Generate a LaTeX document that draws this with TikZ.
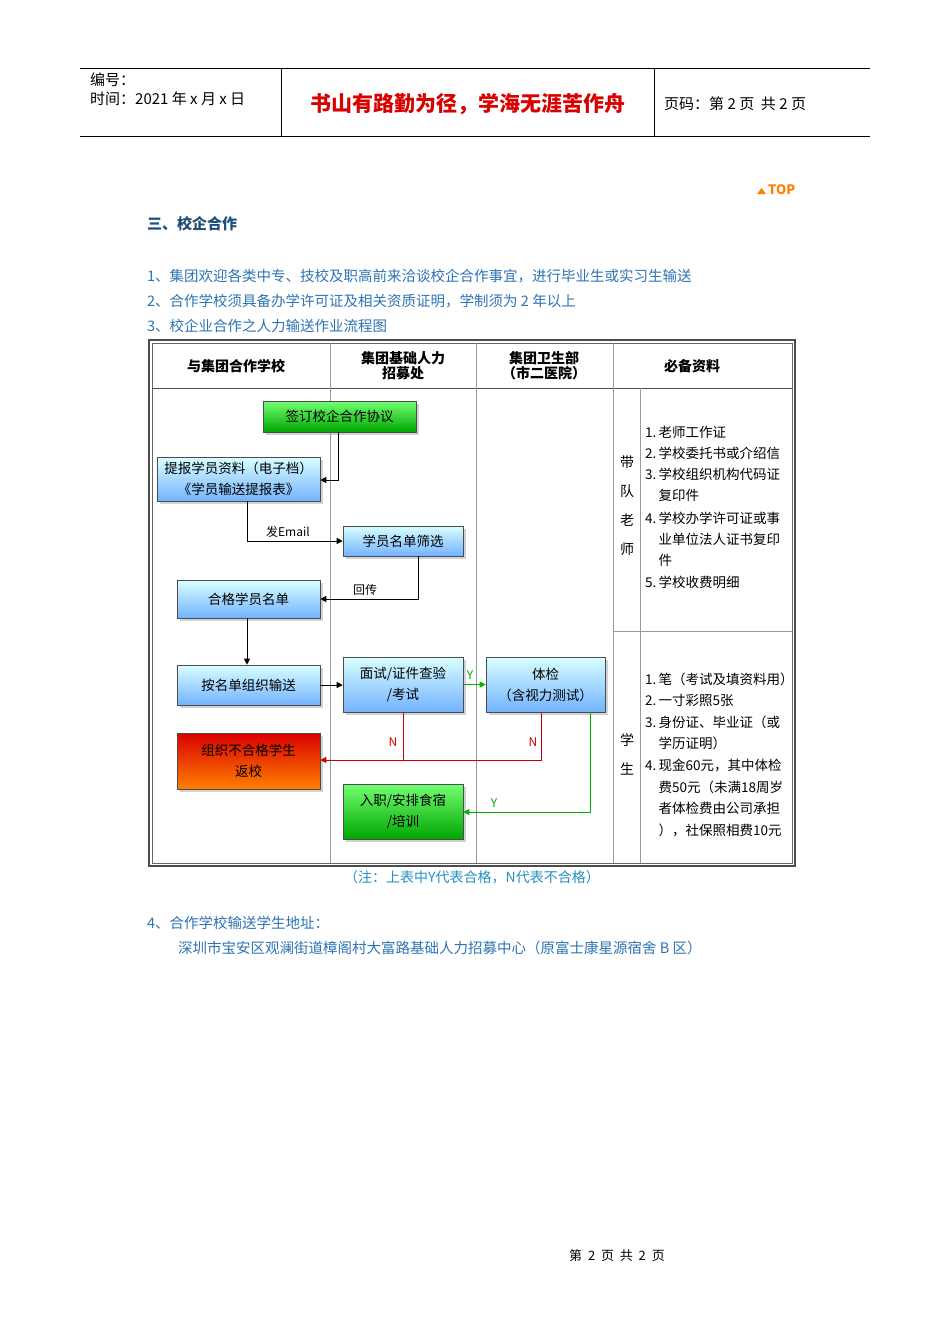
\documentclass[tikz,border=0pt]{standalone}
\usepackage{fontspec}
\setmainfont{Noto Sans CJK SC}
\usetikzlibrary{shadows,arrows.meta}
\definecolor{tblue}{HTML}{2E74B5}
\definecolor{dblue}{HTML}{1F4E79}
\tikzset{
 fbox/.style={draw=black!70,line width=0.6pt,minimum width=#1,align=center,font=\fontsize{13.5}{21}\selectfont,drop shadow={shadow xshift=3pt,shadow yshift=-3pt,opacity=0.35}},
 bluebox/.style={fbox=#1,top color=white!85!cyan,bottom color=cyan!45!blue!55},
 greenbox/.style={fbox=#1,top color=green!55!white,bottom color=green!65!black},
 redbox/.style={fbox=#1,top color=red!85!black,bottom color=orange},
 conn/.style={-{Triangle[length=6pt,width=6pt]},line width=0.8pt},
 gconn/.style={conn,draw=green!70!black},
 rconn/.style={conn,draw=red!80!black},
 lbl/.style={font=\fontsize{12}{13}\selectfont},
 txt/.style={anchor=west,font=\fontsize{14.5}{16}\selectfont,inner sep=0},
 hd/.style={font=\bfseries\fontsize{14}{15}\selectfont,align=center},
 rt/.style={anchor=west,font=\fontsize{13.5}{14}\selectfont,inner sep=0}
}
\begin{document}
\begin{tikzpicture}[x=1pt,y=-1pt]
\useasboundingbox[fill=white] (0,0) rectangle (950,1344);
% header
\draw[line width=0.6pt] (80,68) -- (870,68) (80,136) -- (870,136) (281,68) -- (281,136) (654,68) -- (654,136);
\node[txt,font=\fontsize{15}{16}\selectfont] (bh) at (90,80) {编号：};
\node[txt,font=\fontsize{15}{16}\selectfont] (tm) at (90,99) {时间：2021 年 x 月 x 日};
\node[font=\bfseries\fontsize{21}{22}\selectfont,text=red!85!black] (tt) at (468,104) {书山有路勤为径，学海无涯苦作舟};
\node[txt,font=\fontsize{15}{16}\selectfont] (pg) at (664,104) {页码：第 2 页\ \ 共 2 页};
\node[font=\bfseries\fontsize{13}{13}\selectfont,text=orange,anchor=west,inner sep=0] (top) at (768,190) {TOP};
\fill[orange] (757,194) -- (766,194) -- (761.5,188) -- cycle;
\node[txt,text=dblue,font=\bfseries\fontsize{15}{16}\selectfont] (s3) at (147,224) {三、校企合作};
\node[txt,text=tblue] (l1) at (147,276) {1、集团欢迎各类中专、技校及职高前来洽谈校企合作事宜，进行毕业生或实习生输送};
\node[txt,text=tblue] (l2) at (147,301) {2、合作学校须具备办学许可证及相关资质证明，学制须为 2 年以上};
\node[txt,text=tblue] (l3) at (147,326) {3、校企业合作之人力输送作业流程图};
% table
\draw[line width=1.2pt,black!70] (149,340) rectangle (795,866);
\draw[line width=0.5pt,black!60] (152,343) rectangle (792,863);
\draw[line width=1pt,black!70] (152,388) -- (792,388);
\draw[black!40] (330,343) -- (330,863) (476,343) -- (476,863) (613,343) -- (613,863) (640,388) -- (640,863) (613,631) -- (792,631);
\node[hd] (h1) at (236,366) {与集团合作学校};
\node[hd,font=\bfseries\fontsize{14}{15}\selectfont] (h2) at (403,366) {集团基础人力\\招募处};
\node[hd,font=\bfseries\fontsize{14}{15}\selectfont] (h3) at (544,366) {集团卫生部\\（市二医院）};
\node[hd] (h4) at (692,366) {必备资料};
% nodes
\node[greenbox=153pt,minimum height=31pt] (a) at (339.5,416.5) {签订校企合作协议};
\node[bluebox=163pt,minimum height=44pt] (b) at (238.5,479) {提报学员资料（电子档）\\《学员输送提报表》};
\node[bluebox=120pt,minimum height=30pt] (c) at (403,541) {学员名单筛选};
\node[bluebox=143pt,minimum height=38pt] (d) at (248.5,599) {合格学员名单};
\node[bluebox=143pt,minimum height=40pt] (e) at (248.5,685) {按名单组织输送};
\node[bluebox=120pt,minimum height=55pt] (f) at (403,684.5) {面试/证件查验\\/考试};
\node[bluebox=119pt,minimum height=55pt] (g) at (545.5,684.5) {体检\\（含视力测试）};
\node[redbox=143pt,minimum height=56pt] (h) at (248.5,761) {组织不合格学生\\返校};
\node[greenbox=120pt,minimum height=55pt] (i) at (403,811.5) {入职/安排食宿\\/培训};
% connectors
\draw[conn] (a.south -| 338,0) |- (b.east |- 0,480);
\draw[conn] (b.south -| 247,0) |- (c.west);
\node[lbl] (em) at (288,532) {发Email};
\draw[conn] (c.south -| 418,0) |- (d.east);
\node[lbl] (hc) at (365,590) {回传};
\draw[conn] (d.south -| 247,0) -- (e.north -| 247,0);
\draw[conn] (e.east) -- (f.west |- e.east);
\draw[gconn] (f.east) -- (g.west);
\node[lbl,text=green!70!black] (y1) at (470,675) {Y};
\draw[rconn] (f.south -| 403,0) |- (h.east |- 0,760);
\draw[red!80!black,line width=0.8pt] (g.south -| 541,0) |- (403,760);
\node[lbl,text=red!80!black] (n1) at (393,742) {N};
\node[lbl,text=red!80!black] (n2) at (533,742) {N};
\draw[gconn] (g.south -| 590,0) |- (i.east |- 0,812);
\node[lbl,text=green!70!black] (y2) at (494,803) {Y};
% right column
\foreach \c/\y in {带/462,队/491,老/520,师/549,学/740,生/769}
  \node[font=\fontsize{14}{14}\selectfont] at (627,\y) {\c};
\foreach \t/\y in {1.\,老师工作证/432,2.\,学校委托书或介绍信/453,3.\,学校组织机构代码证/474,\phantom{3.\,}复印件/495,4.\,学校办学许可证或事/518,\phantom{4.\,}业单位法人证书复印/539,\phantom{4.\,}件/560,5.\,学校收费明细/582,1.\,笔（考试及填资料用）/679,2.\,一寸彩照5张/700,3.\,身份证、毕业证（或/722,\phantom{3.\,}学历证明）/743,4.\,现金60元，其中体检/765,\phantom{4.\,}费50元（未满18周岁/787,\phantom{4.\,}者体检费由公司承担/808,\phantom{4.\,}），社保照相费10元/830}
  \node[rt] at (645,\y) {\t};
\node[font=\fontsize{14}{15}\selectfont,text=tblue!80!cyan] (note) at (472,877) {（注：上表中Y代表合格，N代表不合格）};
\node[txt,text=tblue] (l4) at (147,923) {4、合作学校输送学生地址：};
\node[txt,text=tblue] (ad) at (178,948) {深圳市宝安区观澜街道樟阁村大富路基础人力招募中心（原富士康星源宿舍 B 区）};
\node[font=\fontsize{13}{14}\selectfont] (ft) at (617,1256) {第\ \ 2\ \ 页\ \ 共\ \ 2\ \ 页};
\end{tikzpicture}
\end{document}
